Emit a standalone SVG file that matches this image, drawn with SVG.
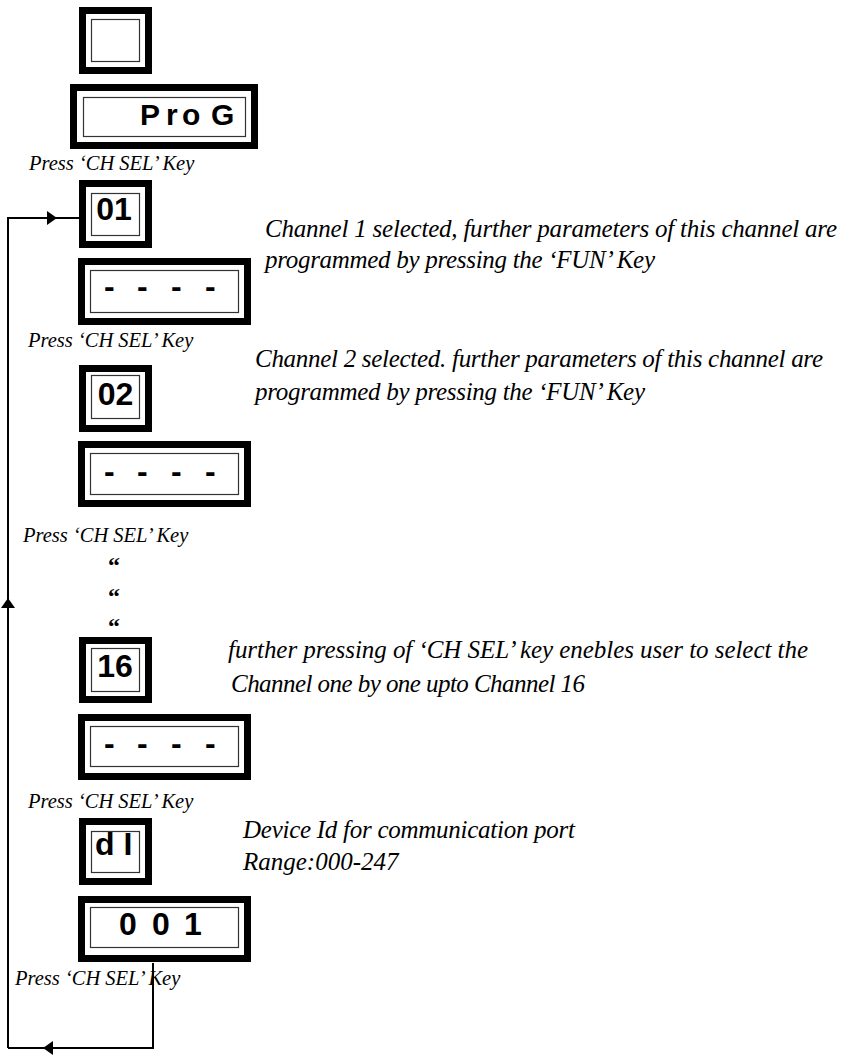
<svg xmlns="http://www.w3.org/2000/svg" width="845" height="1057" viewBox="0 0 845 1057">
<style>
.outer{fill:#fff;stroke:#000;stroke-width:7}
.inner{fill:#fff;stroke:#333;stroke-width:1.2}
.disp{font-family:"Liberation Sans",Arial,sans-serif;font-weight:bold;font-size:32px;fill:#000}
.prog{font-family:"Liberation Sans",Arial,sans-serif;font-weight:bold;font-size:30px;fill:#000}
.dash{font-family:"Liberation Sans",Arial,sans-serif;font-weight:bold;font-size:32px;fill:#000}
.press{font-family:"Liberation Serif","Times New Roman",serif;font-style:italic;font-size:20.5px;fill:#000}
.desc{font-family:"Liberation Serif","Times New Roman",serif;font-style:italic;font-size:25px;fill:#000}
.quote{font-family:"Liberation Serif","Times New Roman",serif;font-weight:bold;font-size:24px;fill:#000}
.conn{fill:none;stroke:#000;stroke-width:2}
</style>
<defs>
<marker id="ah" viewBox="0 0 10 14" refX="10" refY="7" markerWidth="10" markerHeight="14" markerUnits="userSpaceOnUse" orient="auto">
<path d="M0,0 L10,7 L0,14 z" fill="#000"/>
</marker>
</defs>

<g id="connectors">
<path class="conn" d="M8,1048 L8,598" marker-end="url(#ah)"/>
<path class="conn" d="M8,598 L8,218 L57,218" marker-end="url(#ah)"/>
<path class="conn" d="M57,218 L79,218"/>
<path class="conn" d="M153,963 L153,1048 L43,1048" marker-end="url(#ah)"/>
<path class="conn" d="M43,1048 L8,1048"/>
</g>

<g id="blank">
<rect class="outer" x="82.5" y="10.5" width="66" height="60"/>
<rect class="inner" x="91.5" y="19.5" width="48" height="42"/>
</g>

<g id="prog">
<rect class="outer" x="73.5" y="87.5" width="181" height="58"/>
<rect class="inner" x="83.5" y="97.5" width="162" height="39"/>
<text class="prog" x="140 166 182 211" y="125">ProG</text>
</g>

<text class="press" x="29" y="170">Press  ‘CH SEL’ Key</text>

<g id="ch01">
<rect class="outer" x="82.5" y="183.5" width="66" height="61"/>
<rect class="inner" x="91.5" y="193.5" width="48" height="42"/>
<text class="disp" x="114" y="220" text-anchor="middle">01</text>
</g>

<g id="dash1">
<rect class="outer" x="81.5" y="261.5" width="166" height="60"/>
<rect class="inner" x="90.5" y="270.5" width="148" height="42"/>
<text class="dash" x="104 137 171 205" y="297">----</text>
</g>

<text class="desc" x="265" y="237" textLength="572" lengthAdjust="spacing">Channel 1 selected,  further parameters of this channel are</text>
<text class="desc" x="265" y="268" textLength="390" lengthAdjust="spacing">programmed by pressing the ‘FUN’ Key</text>

<text class="press" x="28" y="347">Press  ‘CH SEL’ Key</text>

<text class="desc" x="255" y="367" textLength="568" lengthAdjust="spacing">Channel 2 selected. further parameters of this channel are</text>
<text class="desc" x="255" y="400" textLength="390" lengthAdjust="spacing">programmed by pressing the ‘FUN’ Key</text>

<g id="ch02">
<rect class="outer" x="82.5" y="368.5" width="66" height="60"/>
<rect class="inner" x="91.5" y="375.5" width="48" height="43"/>
<text class="disp" x="115.5" y="405" text-anchor="middle">02</text>
</g>

<g id="dash2">
<rect class="outer" x="81.5" y="444.5" width="166" height="59"/>
<rect class="inner" x="90.5" y="453.5" width="148" height="41"/>
<text class="dash" x="104 137 171 205" y="482">----</text>
</g>

<text class="press" x="23" y="542">Press  ‘CH SEL’ Key</text>

<text class="quote" x="108" y="573">“</text>
<text class="quote" x="108" y="604">“</text>
<text class="quote" x="108" y="634">“</text>

<g id="ch16">
<rect class="outer" x="82.5" y="640.5" width="66" height="59"/>
<rect class="inner" x="91.5" y="648.5" width="48" height="43"/>
<text class="disp" x="115" y="677" text-anchor="middle">16</text>
</g>

<text class="desc" x="228" y="658" textLength="580" lengthAdjust="spacing">further pressing of ‘CH SEL’ key enebles user to select the</text>
<text class="desc" x="231" y="692" textLength="354" lengthAdjust="spacing">Channel one by one upto Channel 16</text>

<g id="dash3">
<rect class="outer" x="81.5" y="717.5" width="166" height="59"/>
<rect class="inner" x="90.5" y="726.5" width="148" height="40"/>
<text class="dash" x="104 137 171 205" y="754">----</text>
</g>

<text class="press" x="28" y="808">Press  ‘CH SEL’ Key</text>

<g id="devid">
<rect class="outer" x="82.5" y="821.5" width="66" height="60"/>
<rect class="inner" x="91.5" y="831.5" width="48" height="41"/>
<text class="disp" x="95" y="855">d I</text>
</g>

<text class="desc" x="243" y="838" textLength="332" lengthAdjust="spacing">Device Id  for communication port</text>
<text class="desc" x="243" y="870">Range:000-247</text>

<g id="devval">
<rect class="outer" x="81.5" y="899.5" width="166" height="59"/>
<rect class="inner" x="90.5" y="907.5" width="148" height="40"/>
<text class="disp" x="119 152 184" y="935">001</text>
</g>

<text class="press" x="15" y="985">Press  ‘CH SEL’ Key</text>
</svg>
